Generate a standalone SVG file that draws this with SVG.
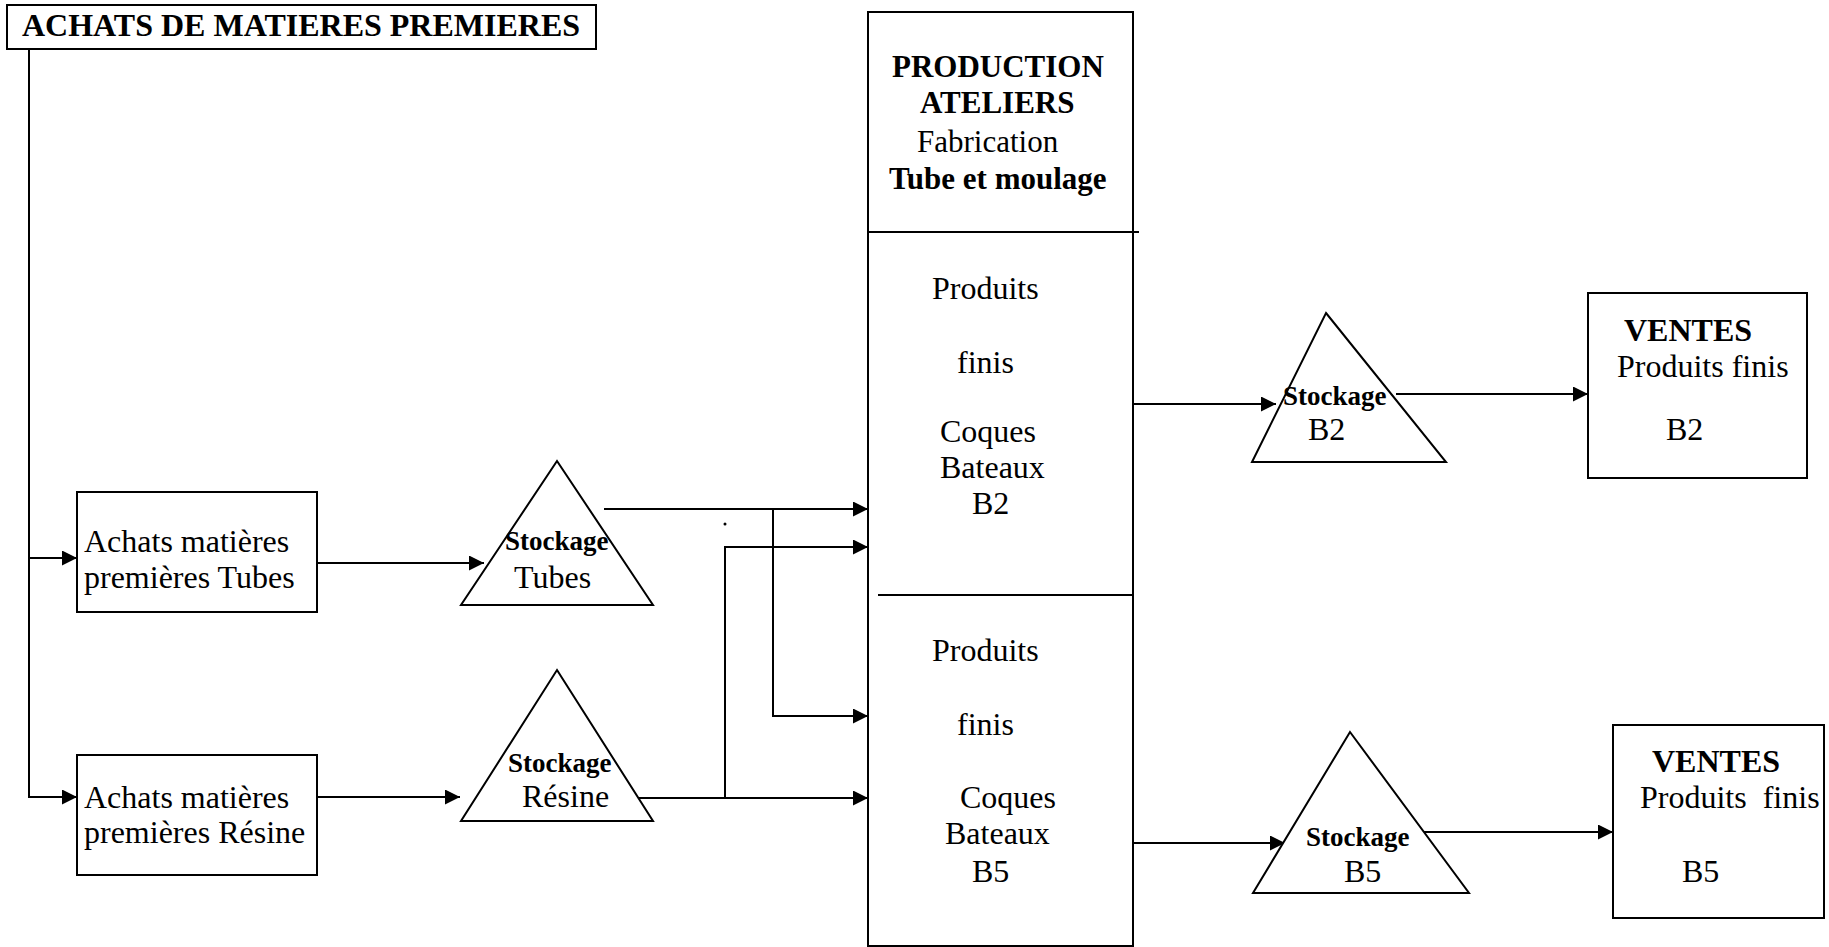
<svg xmlns="http://www.w3.org/2000/svg" width="1829" height="947" viewBox="0 0 1829 947">
<defs>
<marker id="arr" markerUnits="userSpaceOnUse" markerWidth="16" markerHeight="16" refX="15" refY="7.5" orient="auto">
<path d="M0,0 L15,7.5 L0,15 z" fill="#000"/>
</marker>
<style>
.box{fill:#fff;stroke:#000;stroke-width:2}
.tri{fill:#fff;stroke:#000;stroke-width:2}
.ln{fill:none;stroke:#000;stroke-width:2}
.ar{fill:none;stroke:#000;stroke-width:2;marker-end:url(#arr)}
text{font-family:"Liberation Serif","Times New Roman",serif;font-size:32px;fill:#000}
.b{font-weight:bold}
.st{font-weight:bold;font-size:27px}
.p{font-size:31px}
</style>
</defs>
<rect width="1829" height="947" fill="#fff"/>
<g id="connectors">
<path class="ln" d="M29,49 V798"/>
<path class="ar" d="M29,558 H77"/>
<path class="ar" d="M29,797 H77"/>
<path class="ar" d="M317,563 H484"/>
<path class="ar" d="M317,797 H460"/>
<path class="ar" d="M604,509 H868"/>
<path class="ar" d="M773,509 V716 H868"/>
<path class="ar" d="M628,798 H868"/>
<path class="ar" d="M725,798 V547 H868"/>
<circle cx="725" cy="524" r="1.5" fill="#000"/>
<path class="ar" d="M1133,404 H1276"/>
<path class="ar" d="M1396,394 H1588"/>
<path class="ar" d="M1133,843 H1285"/>
<path class="ar" d="M1422,832 H1613"/>
</g>
<g id="title">
<rect class="box" x="7" y="5" width="589" height="44"/>
<text class="b" x="22" y="36">ACHATS DE MATIERES PREMIERES</text>
</g>
<g id="achats-tubes">
<rect class="box" x="77" y="492" width="240" height="120"/>
<text x="84" y="552">Achats matières</text>
<text x="84" y="588">premières Tubes</text>
</g>
<g id="achats-resine">
<rect class="box" x="77" y="755" width="240" height="120"/>
<text x="84" y="808">Achats matières</text>
<text x="84" y="843">premières Résine</text>
</g>
<g id="stockage-tubes">
<polygon class="tri" points="557,461 653,605 461,605"/>
<text class="st" x="505" y="550">Stockage</text>
<text x="514" y="588">Tubes</text>
</g>
<g id="stockage-resine">
<polygon class="tri" points="557,670 653,821 461,821"/>
<text class="st" x="508" y="772">Stockage</text>
<text x="522" y="807">Résine</text>
</g>
<g id="production">
<rect class="box" x="868" y="12" width="265" height="934"/>
<path class="ln" d="M868,232 H1139"/>
<path class="ln" d="M878,595 H1133"/>
<text class="b p" x="892" y="77">PRODUCTION</text>
<text class="b p" x="920" y="113">ATELIERS</text>
<text class="p" x="917" y="152">Fabrication</text>
<text class="b p" x="889" y="189">Tube et moulage</text>
<text x="932" y="299">Produits</text>
<text x="957" y="373">finis</text>
<text x="940" y="442">Coques</text>
<text x="940" y="478">Bateaux</text>
<text x="972" y="514">B2</text>
<text x="932" y="661">Produits</text>
<text x="957" y="735">finis</text>
<text x="960" y="808">Coques</text>
<text x="945" y="844">Bateaux</text>
<text x="972" y="882">B5</text>
</g>
<g id="stockage-b2">
<polygon class="tri" points="1326,313 1446,462 1252,462"/>
<text class="st" x="1283" y="405">Stockage</text>
<text x="1308" y="440">B2</text>
</g>
<g id="ventes-b2">
<rect class="box" x="1588" y="293" width="219" height="185"/>
<text class="b" x="1624" y="341">VENTES</text>
<text x="1617" y="377">Produits finis</text>
<text x="1666" y="440">B2</text>
</g>
<g id="stockage-b5">
<polygon class="tri" points="1350,732 1469,893 1253,893"/>
<text class="st" x="1306" y="846">Stockage</text>
<text x="1344" y="882">B5</text>
</g>
<g id="ventes-b5">
<rect class="box" x="1613" y="725" width="211" height="193"/>
<text class="b" x="1652" y="772">VENTES</text>
<text x="1640" y="808" xml:space="preserve">Produits  finis</text>
<text x="1682" y="882">B5</text>
</g>
</svg>
